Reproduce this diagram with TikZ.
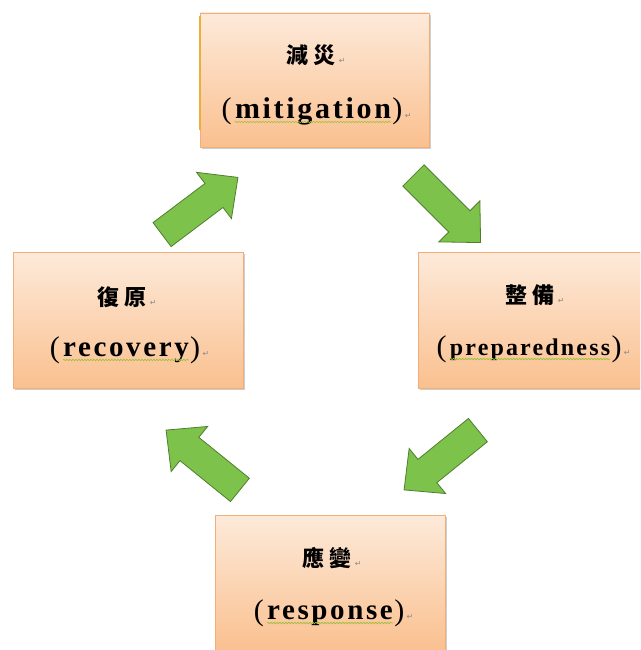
\documentclass[tikz,border=0pt]{standalone}
\usepackage{fontspec}
\setmainfont{Liberation Serif}
\newfontfamily\cjk{Noto Sans CJK TC}
\newfontfamily\enf{Liberation Serif}[LetterSpace=9]
\newfontfamily\symf{DejaVu Sans}
\usetikzlibrary{shadows,decorations.pathmorphing}
\definecolor{boxtop}{HTML}{FDEADA}
\definecolor{boxbot}{HTML}{FAC08F}
\definecolor{boxline}{HTML}{F0AE78}
\definecolor{arrfill}{HTML}{7DC24B}
\definecolor{arrline}{HTML}{4F7F2E}
\definecolor{wavyc}{HTML}{9DBF3A}
\definecolor{edgec}{HTML}{E9AE3C}
\begin{document}
\begin{tikzpicture}[x=1pt,y=-1pt,
  card/.style={draw=boxline, line width=0.6pt, top color=boxtop, bottom color=boxbot,
    inner sep=0pt, outer sep=0pt, anchor=north west,
    drop shadow={shadow xshift=2pt, shadow yshift=-2pt, opacity=0.35, fill=black!55}},
  garrow/.style={draw=arrline, fill=arrfill, line width=0.8pt, line join=miter},
  zh/.style={inner sep=0pt, font=\fontsize{22}{22}\selectfont\cjk\bfseries},
  en/.style={inner sep=0pt, font=\fontsize{30}{30}\selectfont\enf\bfseries},
  paren/.style={inner sep=0pt, font=\fontsize{30}{30}\selectfont\rmfamily},
  ret/.style={inner sep=0pt, text=black!45, font=\fontsize{8}{8}\selectfont\symf},
  wavy/.style={draw=wavyc, line width=0.6pt, decorate,
    decoration={snake, amplitude=0.8pt, segment length=3pt}}]
\clip (0,0) rectangle (640,650);
\fill[white] (0,0) rectangle (640,650);

% boxes
\node[card, minimum width=229pt, minimum height=134pt] (b1) at (200,13) {};
\node[card, minimum width=242pt, minimum height=136pt] (b2) at (418,252) {};
\node[card, minimum width=230pt, minimum height=136pt] (b3) at (215,515) {};
\node[card, minimum width=230pt, minimum height=136pt] (b4) at (13,252) {};
\draw[edgec, line width=2pt] ([xshift=-0.5pt, yshift=-3pt]b1.north west) -- ([xshift=-0.5pt, yshift=17pt]b1.south west);

% block arrows (drawn as shapes around named centres)
\coordinate (a1) at (200,206);
\coordinate (a2) at (447,209);
\coordinate (a3) at (441,460);
\coordinate (a4) at (203,460);
\foreach \c/\ang in {a1/37, a2/-45, a3/-141, a4/141}{
  \draw[garrow, shift={(\c)}, rotate=\ang]
    (-47.5,-15) -- (17.5,-15) -- (17.5,-29) -- (47.5,0) -- (17.5,29) -- (17.5,15) -- (-47.5,15) -- cycle;
}

% top box text
\node[zh] (z1) at (311,55) {減\hspace{5pt}災};
\node[ret, anchor=base west] at ([xshift=3pt]z1.base east) {↵};
\node[en, anchor=base] (e1) at (313,118) {mitigation};
\node[paren, anchor=base east] at ([xshift=-3pt, yshift=-1pt]e1.base west) {(};
\node[paren, anchor=base west] (r1) at ([xshift=1pt, yshift=-1pt]e1.base east) {)};
\node[ret, anchor=base west] at ([xshift=2pt, yshift=1pt]r1.base east) {↵};
\draw[wavy] ([yshift=-4pt]e1.base west) -- ([yshift=-4pt]e1.base east);

% right box text
\node[zh] (z2) at (530,295) {整\hspace{5pt}備};
\node[ret, anchor=base west] at ([xshift=3pt]z2.base east) {↵};
\node[en, anchor=base, font=\fontsize{24}{24}\selectfont\enf\bfseries] (e2) at (530,355) {preparedness};
\node[paren, anchor=base east] at ([xshift=-3pt, yshift=-1pt]e2.base west) {(};
\node[paren, anchor=base west] (r2) at ([xshift=1pt, yshift=-1pt]e2.base east) {)};
\node[ret, anchor=base west] at ([xshift=2pt, yshift=1pt]r2.base east) {↵};
\draw[wavy] ([yshift=-4pt]e2.base west) -- ([yshift=-4pt]e2.base east);

% left box text
\node[zh] (z4) at (122,297) {復\hspace{5pt}原};
\node[ret, anchor=base west] at ([xshift=3pt]z4.base east) {↵};
\node[en, anchor=base, font=\fontsize{29}{29}\selectfont\enf\bfseries] (e4) at (126,356) {recovery};
\node[paren, anchor=base east] at ([xshift=-3pt, yshift=-1pt]e4.base west) {(};
\node[paren, anchor=base west] (r4) at ([xshift=1pt, yshift=-1pt]e4.base east) {)};
\node[ret, anchor=base west] at ([xshift=2pt, yshift=1pt]r4.base east) {↵};
\draw[wavy] ([yshift=-4pt]e4.base west) -- ([yshift=-4pt]e4.base east);

% bottom box text
\node[zh] (z3) at (327,558) {應\hspace{5pt}變};
\node[ret, anchor=base west] at ([xshift=3pt]z3.base east) {↵};
\node[en, anchor=base, font=\fontsize{29}{29}\selectfont\enf\bfseries] (e3) at (330,619) {response};
\node[paren, anchor=base east] at ([xshift=-3pt, yshift=-1pt]e3.base west) {(};
\node[paren, anchor=base west] (r3) at ([xshift=1pt, yshift=-1pt]e3.base east) {)};
\node[ret, anchor=base west] at ([xshift=2pt, yshift=1pt]r3.base east) {↵};
\draw[wavy] ([yshift=-4pt]e3.base west) -- ([yshift=-4pt]e3.base east);
\end{tikzpicture}
\end{document}
